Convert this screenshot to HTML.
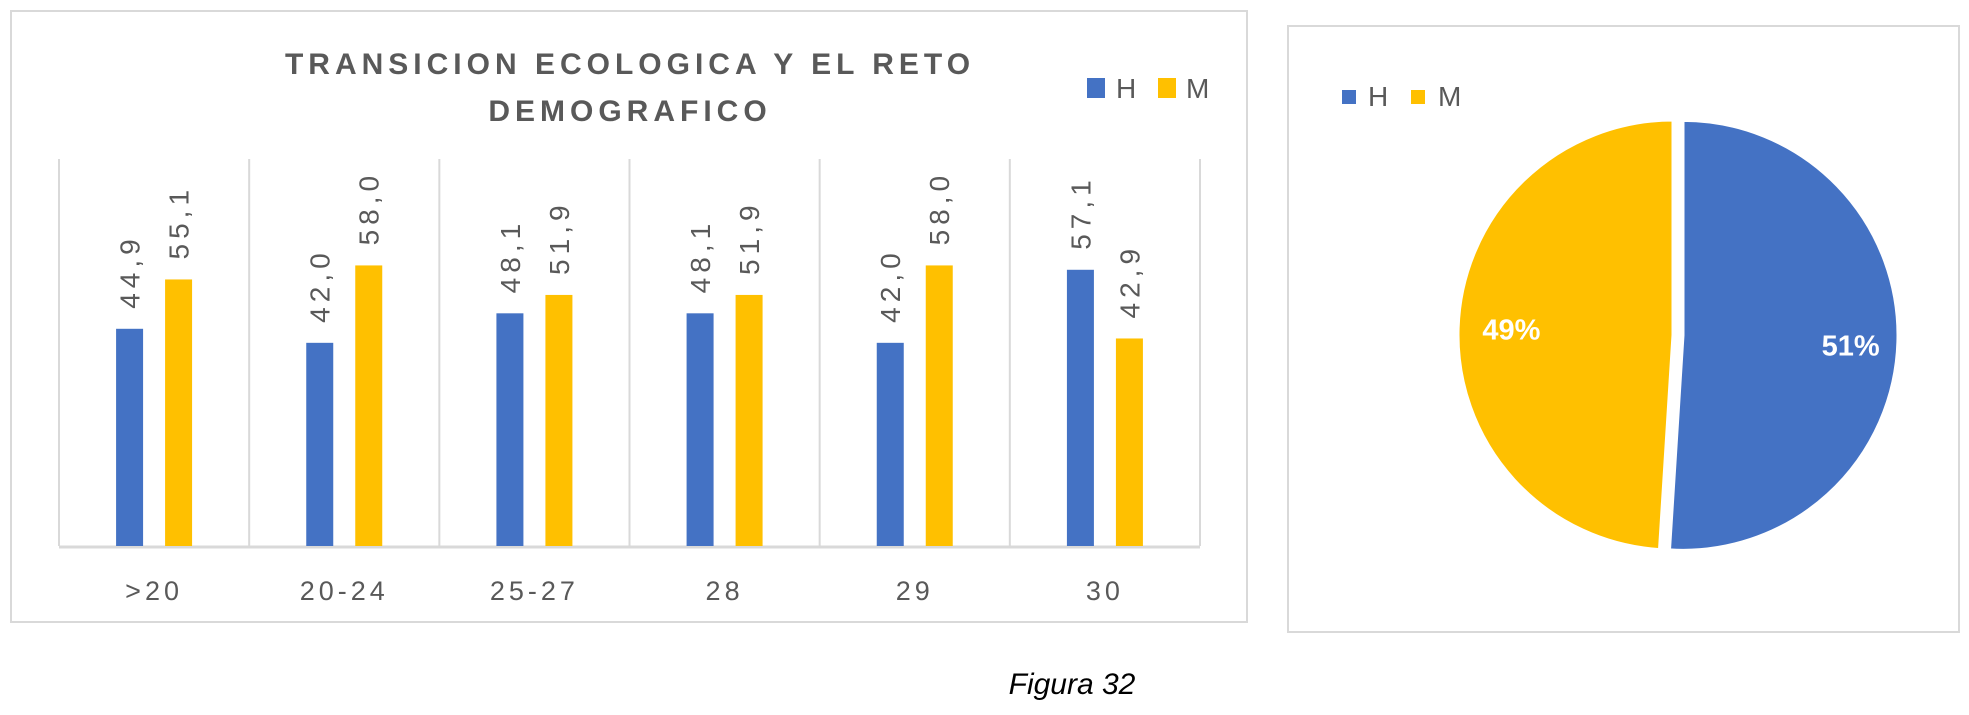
<!DOCTYPE html>
<html><head><meta charset="utf-8"><style>
body{margin:0;width:1969px;height:710px;background:#fff;overflow:hidden;font-family:"Liberation Sans",sans-serif}
</style></head><body>
<svg width="1969" height="710" xmlns="http://www.w3.org/2000/svg">
<rect x="11" y="11" width="1236" height="611" fill="#fff" stroke="#d9d9d9" stroke-width="2"/>
<rect x="1288" y="26" width="671" height="606" fill="#fff" stroke="#d9d9d9" stroke-width="2"/>
<g font-weight="bold" font-size="30" fill="#595959" text-anchor="middle" letter-spacing="5">
<text x="630" y="74">TRANSICION ECOLOGICA Y EL RETO</text>
<text x="630" y="121">DEMOGRAFICO</text>
</g>
<g font-size="28" fill="#595959">
<rect x="1087" y="78" width="18" height="20" fill="#4472c4"/>
<text x="1116" y="98">H</text>
<rect x="1158" y="78" width="18" height="20" fill="#ffc000"/>
<text x="1186" y="98">M</text>
</g>
<g id="bars"></g>
<g font-size="28" fill="#595959">
<rect x="1342" y="90" width="14" height="14" fill="#4472c4"/>
<text x="1368" y="106">H</text>
<rect x="1411" y="90" width="14" height="14" fill="#ffc000"/>
<text x="1438" y="106">M</text>
</g>
<g id="pie"></g>
<text x="1072" y="694" font-size="30" font-style="italic" fill="#000" text-anchor="middle">Figura 32</text>
</svg>
<script>
const categories=[">20","20-24","25-27","28","29","30"];
const seriesH=[44.9,42.0,48.1,48.1,42.0,57.1];
const seriesM=[55.1,58.0,51.9,51.9,58.0,42.9];
const pieLabels=["H","M"];
const pieValues=[51,49];
const NS="http://www.w3.org/2000/svg";
function mk(t,a,p){const e=document.createElementNS(NS,t);for(const k in a)e.setAttribute(k,a[k]);p.appendChild(e);return e;}
const g=document.getElementById('bars');
const x0=59,x1=1200,yTop=159,yBase=546,yMax=80;
const band=(x1-x0)/categories.length;
const y=v=>yBase-(yBase-yTop)*v/yMax;
for(let i=0;i<=categories.length;i++){
  const l=mk('line',{x1:x0+i*band,x2:x0+i*band,y1:yTop,y2:yBase,stroke:'#d9d9d9','stroke-width':2},g);
  
  
}
const ax=mk('line',{x1:x0,x2:x1,y1:yBase+1,y2:yBase+1,stroke:'#d9d9d9','stroke-width':3},g);


categories.forEach((c,i)=>{
  const cx=x0+band*(i+0.5);
  [[seriesH,'#4472c4',-38,'h'],[seriesM,'#ffc000',11,'m']].forEach(([s,col,off,n])=>{
    const v=s[i],bx=cx+off,w=27;
    const r=mk('rect',{x:bx,y:y(v),width:w,height:yBase-y(v),fill:col},g);
    
    
    const tx=bx+w/2+10,ty=y(v)-20;
    const t=mk('text',{x:tx,y:ty,transform:`rotate(-90 ${tx} ${ty})`,'font-size':28,fill:'#595959','letter-spacing':5},g);
    t.textContent=v.toFixed(1).replace('.',',');
    
    
  });
  const t=mk('text',{x:cx,y:600,'font-size':27,fill:'#595959','text-anchor':'middle','letter-spacing':4},g);
  t.textContent=c;
  
  
});
const pg=document.getElementById('pie');
const pcx=1673,pcy=335,R=215,tot=pieValues.reduce((a,b)=>a+b,0);
const cols=['#4472c4','#ffc000'];
let a0=-Math.PI/2;
pieValues.forEach((v,i)=>{
  const a1=a0+2*Math.PI*v/tot,am=(a0+a1)/2;
  const ex=i===0?10:0;
  const cx=pcx+ex*Math.cos(am),cy=pcy+ex*Math.sin(am);
  const large=(a1-a0)>Math.PI?1:0;
  const d=`M${cx},${cy} L${cx+R*Math.cos(a0)},${cy+R*Math.sin(a0)} A${R},${R} 0 ${large} 1 ${cx+R*Math.cos(a1)},${cy+R*Math.sin(a1)} Z`;
  const p=mk('path',{d,fill:cols[i],stroke:'#fff','stroke-width':3},pg);
  
  
  const lx=cx+R*0.78*Math.cos(am),ly=cy+R*0.78*Math.sin(am);
  const t=mk('text',{x:lx+(i===1?6:0),y:ly+(i===0?15:10),'font-size':29,'font-weight':'bold',fill:'#fff','text-anchor':'middle'},pg);
  t.textContent=v+'%';
  
  
  a0=a1;
});
</script>
</body></html>
